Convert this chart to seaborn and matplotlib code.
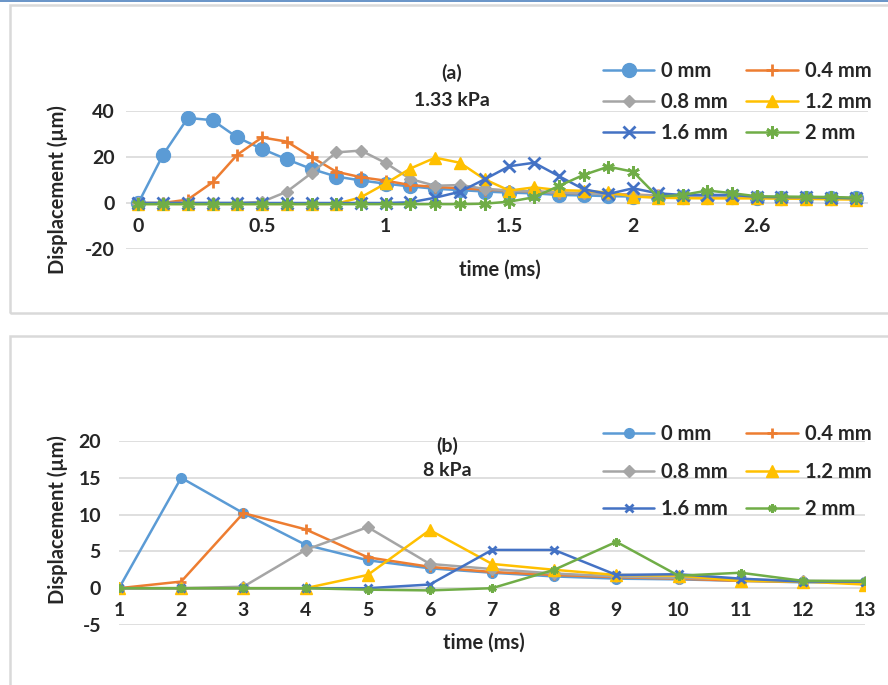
import numpy as np
import pandas as pd
import matplotlib
matplotlib.use("Agg")
import matplotlib.pyplot as plt
import seaborn as sns
from matplotlib.patches import Rectangle
from matplotlib.lines import Line2D

# --- data: panel (a), 1.33 kPa ---
time_a = [0.0, 0.1, 0.2, 0.3, 0.4, 0.5, 0.6, 0.7, 0.8, 0.9,
          1.0, 1.1, 1.2, 1.3, 1.4, 1.5, 1.6, 1.7, 1.8, 1.9,
          2.0, 2.1, 2.2, 2.3, 2.4, 2.5, 2.6, 2.7, 2.8, 2.9]
a_0mm = [0, 21, 37, 36, 28.5, 23.5, 19, 14.8, 11.5, 9.8,
         8.4, 7.2, 6.2, 5.6, 5.0, 4.5, 4.2, 3.5, 3.3, 3.0,
         2.8, 2.6, 2.5, 2.5, 2.4, 2.3, 2.2, 2.1, 2.0, 2.0]
a_04mm = [0, 0, 1.5, 9, 21, 28.5, 26.7, 20, 13.6, 11.2,
          9.7, 7.8, 7.0, 6.4, 5.8, 5.4, 5.0, 4.5, 4.2, 3.9,
          3.6, 3.3, 3.1, 2.9, 2.7, 2.6, 2.4, 2.3, 2.2, 2.1]
a_08mm = [0, 0, 0, 0, 0, 0.5, 4.9, 13, 22, 22.8,
          17.4, 10.4, 7.5, 7.8, 6.2, 5.4, 5.0, 4.6, 4.2, 3.8,
          3.5, 3.2, 3.0, 2.8, 2.6, 2.5, 2.4, 2.3, 2.2, 2.1]
a_12mm = [-0.4, -0.4, -0.4, -0.4, -0.4, -0.4, -0.4, -0.4, -0.4, 2.5,
          8.5, 15, 19.7, 17.5, 10.3, 5.4, 6.8, 5.6, 5.3, 4.6,
          2.8, 2.3, 2.1, 2.0, 2.0, 2.0, 1.9, 1.8, 1.6, 1.5]
a_16mm = [0, 0, 0, 0, 0, 0, 0, 0, 0, 0,
          0, 0.3, 2.3, 4.9, 10.3, 16, 17.5, 11.7, 6.0, 3.9,
          6.4, 4.2, 3.5, 3.5, 3.5, 2.7, 2.5, 2.5, 2.3, 2.0]
a_2mm = [-0.5, -0.5, -0.5, -0.5, -0.5, -0.5, -0.5, -0.5, -0.5, -0.5,
         -0.5, -0.5, -0.5, -0.5, -0.3, 0.6, 2.5, 7.4, 12.2, 15.8,
         13.6, 2.7, 3.5, 5.4, 4.3, 2.9, 2.8, 2.7, 2.6, 2.3]
ticks_a = [0, 0.5, 1, 1.5, 2, 2.5]
tick_labels_a = ["0", "0.5", "1", "1.5", "2", "2.6"]

# --- data: panel (b), 8 kPa ---
time_b = [1, 2, 3, 4, 5, 6, 7, 8, 9, 10, 11, 12, 13]
b_0mm = [0, 15, 10.2, 5.9, 3.8, 2.7, 2.1, 1.6, 1.3, 1.2, 1.0, 0.8, 0.8]
b_04mm = [0, 0.9, 10.2, 8.0, 4.2, 2.9, 2.2, 1.8, 1.5, 1.3, 1.0, 0.9, 0.8]
b_08mm = [0, 0, 0.2, 5.2, 8.3, 3.3, 2.6, 2.0, 1.6, 1.4, 1.2, 1.0, 0.9]
b_12mm = [0, 0, 0, 0, 1.8, 7.9, 3.3, 2.5, 1.8, 1.7, 1.0, 0.9, 0.5]
b_16mm = [0, 0, 0, 0, 0, 0.5, 5.2, 5.2, 1.8, 1.9, 1.3, 0.9, 0.9]
b_2mm = [0, 0, 0, 0, -0.2, -0.3, 0, 2.5, 6.3, 1.7, 2.1, 1.0, 1.0]

labels = ["0 mm", "0.4 mm", "0.8 mm", "1.2 mm", "1.6 mm", "2 mm"]
colors = ["#5B9BD5", "#ED7D31", "#A5A5A5", "#FFC000", "#4472C4", "#70AD47"]
markers = ["o", "+", "D", "^", "x", (6, 2, 0)]
msize_a = [10, 9, 6, 9, 8, 9]
msize_b = [7, 7, 6, 8, 6, 6]

sns.set_theme(style="white")
plt.rcParams["font.family"] = ["Lato", "DejaVu Sans"]
plt.rcParams["font.weight"] = "bold"
plt.rcParams["axes.unicode_minus"] = False

FS = 14.5

fig = plt.figure(figsize=(8.88, 6.85), dpi=100)

# panel frames
fig.add_artist(Line2D([0, 1], [0.9985, 0.9985], color="#4F81BD", lw=1.2))
fig.add_artist(Rectangle((10 / 888, 1 - 313 / 685), 1.0, (313 - 5) / 685,
                         fill=False, ec="#D9D9D9", lw=1.8))
fig.add_artist(Rectangle((10 / 888, -0.1), 1.0, 0.1 + 1 - 336 / 685,
                         fill=False, ec="#D9D9D9", lw=1.8))

ax_a = fig.add_axes([126 / 888, 1 - 249 / 685, (868 - 126) / 888, (249 - 111) / 685])
ax_b = fig.add_axes([119 / 888, 1 - 625 / 685, (865 - 119) / 888, (625 - 441) / 685])

series_a = [a_0mm, a_04mm, a_08mm, a_12mm, a_16mm, a_2mm]
series_b = [b_0mm, b_04mm, b_08mm, b_12mm, b_16mm, b_2mm]

for i in range(6):
    mew = 2 if markers[i] in ["+", "x", (6, 2, 0)] else 1
    df = pd.DataFrame({"time": time_a, "disp": series_a[i]})
    sns.lineplot(data=df, x="time", y="disp", ax=ax_a, color=colors[i],
                 marker=markers[i], markersize=msize_a[i], lw=1.8,
                 mec=colors[i], mew=mew, label=labels[i])
    df = pd.DataFrame({"time": time_b, "disp": series_b[i]})
    sns.lineplot(data=df, x="time", y="disp", ax=ax_b, color=colors[i],
                 marker=markers[i], markersize=msize_b[i], lw=1.8,
                 mec=colors[i], mew=mew, label=labels[i])

for ax in [ax_a, ax_b]:
    for s in ax.spines.values():
        s.set_visible(False)
    ax.grid(axis="y", color="#D9D9D9", lw=1.2)
    ax.grid(axis="x", visible=False)
    ax.set_xlabel("")
    ax.set_ylabel("")
    ax.tick_params(length=0, labelsize=FS - 0.5)
    ax.spines["bottom"].set_position(("data", 0))

ax_a.set_xlim(-0.05, 2.95)
ax_a.set_ylim(-20, 40)
ax_a.set_yticks([-20, 0, 20, 40])
ax_a.set_xticks(ticks_a, tick_labels_a)
ax_a.tick_params(axis="x", pad=11)
ax_a.tick_params(axis="y", pad=8)

ax_b.set_xlim(1, 13)
ax_b.set_ylim(-5, 20)
ax_b.set_yticks([-5, 0, 5, 10, 15, 20])
ax_b.set_xticks(time_b, [str(t) for t in time_b])
ax_b.tick_params(axis="x", pad=10)
ax_b.tick_params(axis="y", pad=13)

for ax in [ax_a, ax_b]:
    for t in ax.get_xticklabels() + ax.get_yticklabels():
        t.set_fontweight("bold")

# legends, row-major order like the original
order = [0, 2, 4, 1, 3, 5]
for ax, top, ls in [(ax_a, 1 - 61 / 685, 0.55), (ax_b, 1 - 424 / 685, 0.88)]:
    h, l = ax.get_legend_handles_labels()
    ax.legend([h[k] for k in order], [l[k] for k in order],
              loc="upper left", bbox_to_anchor=(603 / 888, top),
              bbox_transform=fig.transFigure, ncol=2, frameon=False,
              handlelength=2.55, handletextpad=0.35,
              columnspacing=0.9, labelspacing=ls, borderpad=0, borderaxespad=0,
              prop={"weight": "bold", "size": FS})

# titles and axis labels
fig.text(452 / 888, 1 - 73 / 685, "(a)", ha="center", va="center", fontsize=FS - 0.5, fontweight="bold")
fig.text(452 / 888, 1 - 100 / 685, "1.33 kPa", ha="center", va="center", fontsize=FS - 0.5, fontweight="bold")
fig.text(447 / 888, 1 - 446 / 685, "(b)", ha="center", va="center", fontsize=FS - 0.5, fontweight="bold")
fig.text(447 / 888, 1 - 470 / 685, "8 kPa", ha="center", va="center", fontsize=FS - 0.5, fontweight="bold")

fig.text(500 / 888, 1 - 270 / 685, "time (ms)", ha="center", va="center", fontsize=FS, fontweight="bold")
fig.text(484 / 888, 1 - 643 / 685, "time (ms)", ha="center", va="center", fontsize=FS, fontweight="bold")
fig.text(58 / 888, 1 - 190 / 685, "Displacement (µm)", rotation=90, ha="center", va="center",
         fontsize=FS, fontweight="bold")
fig.text(58 / 888, 1 - 520 / 685, "Displacement (µm)", rotation=90, ha="center", va="center",
         fontsize=FS, fontweight="bold")

fig.savefig("out.png", dpi=100)
plt.close()
